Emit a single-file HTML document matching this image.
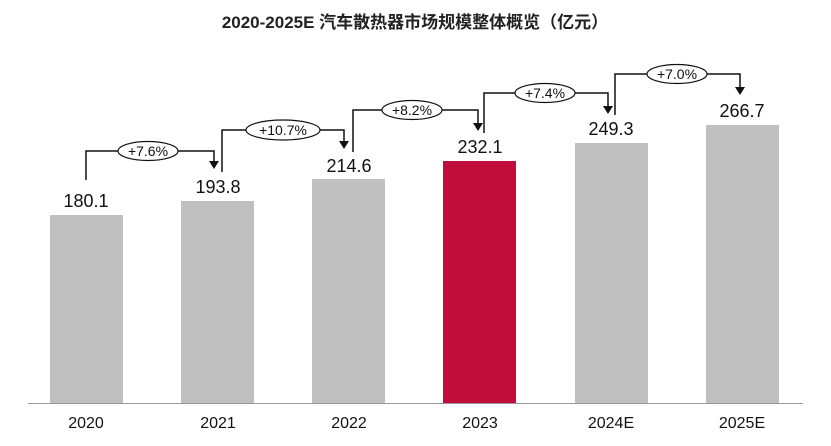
<!DOCTYPE html><html><head><meta charset="utf-8"><style>body{margin:0;background:#fff}</style></head><body>
<svg width="831" height="441" xmlns="http://www.w3.org/2000/svg" font-family="Liberation Sans, Noto Sans CJK SC, sans-serif">
<text x="415" y="28" text-anchor="middle" font-size="17" font-weight="bold" fill="#222">2020-2025E 汽车散热器市场规模整体概览（亿元）</text>
<g fill="#c0c0c0">
<rect x="50" y="215" width="73" height="188"/>
<rect x="181" y="201" width="73" height="202"/>
<rect x="312" y="179" width="73" height="224"/>
<rect x="443" y="161" width="73" height="242" fill="#c00d3a"/>
<rect x="575" y="143" width="73" height="260"/>
<rect x="706" y="125" width="73" height="278"/>
</g>
<line x1="28" y1="403.5" x2="803" y2="403.5" stroke="#999"/>
<g font-size="18" text-anchor="middle" fill="#111">
<text x="86" y="207">180.1</text><text x="218" y="193">193.8</text><text x="349" y="172">214.6</text>
<text x="480" y="153">232.1</text><text x="611" y="135">249.3</text><text x="742" y="117">266.7</text>
</g>
<g font-size="16" text-anchor="middle" fill="#111">
<text x="86" y="428">2020</text><text x="218" y="428">2021</text><text x="349" y="428">2022</text>
<text x="480" y="428">2023</text><text x="611" y="428">2024E</text><text x="742" y="428">2025E</text>
</g>
<g stroke="#111" stroke-width="1.5" fill="none">
<polyline points="86,180 86,151 214,151 214,162"/>
<polyline points="222,172 222,130 344,130 344,142"/>
<polyline points="353,152 353,110 478,110 478,124"/>
<polyline points="484,133 484,93 608,93 608,107"/>
<polyline points="615,115 615,74 740,74 740,88"/>
</g>
<g fill="#111">
<polygon points="209,161 219,161 214,169"/>
<polygon points="339,141 349,141 344,149"/>
<polygon points="473,123 483,123 478,131"/>
<polygon points="603,106 613,106 608,114"/>
<polygon points="735,87 745,87 740,95"/>
</g>
<g fill="#fff" stroke="#111" stroke-width="1.2">
<ellipse cx="148" cy="151" rx="30" ry="9.5"/>
<ellipse cx="283" cy="130" rx="37" ry="10"/>
<ellipse cx="412" cy="110" rx="30" ry="9.5"/>
<ellipse cx="545" cy="93" rx="30" ry="9.5"/>
<ellipse cx="677" cy="74" rx="30" ry="9.5"/>
</g>
<g font-size="14" text-anchor="middle" fill="#111">
<text x="148" y="156">+7.6%</text><text x="283" y="135">+10.7%</text><text x="412" y="115">+8.2%</text>
<text x="545" y="98">+7.4%</text><text x="677" y="79">+7.0%</text>
</g>
</svg></body></html>
